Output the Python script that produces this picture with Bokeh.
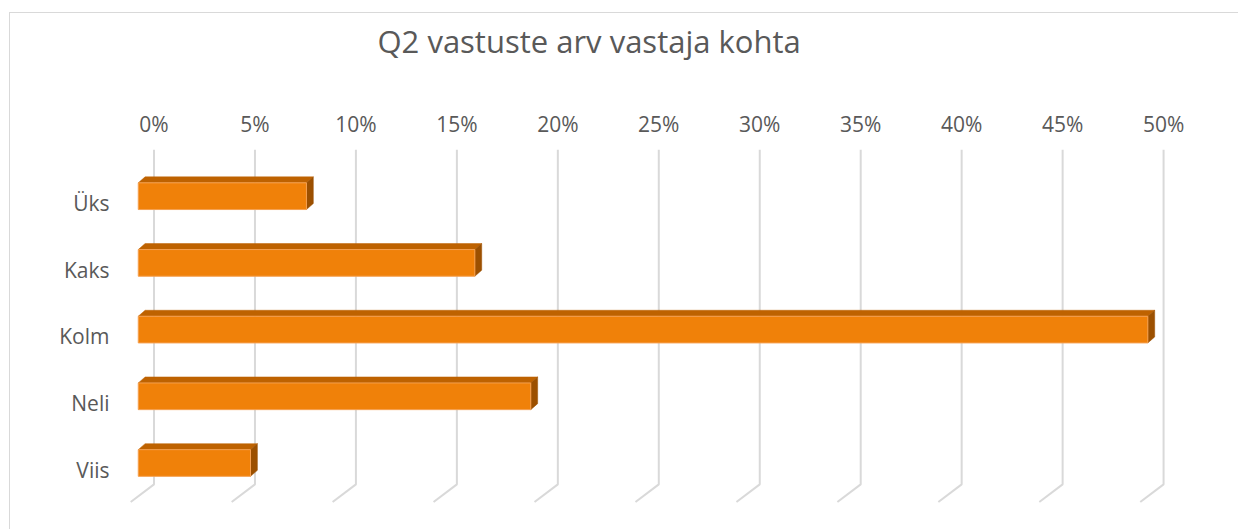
import numpy as np
from bokeh.plotting import figure
from bokeh.models import Range1d, FixedTicker
from bokeh.embed import file_html
from bokeh.resources import INLINE

# ---- data ----
title_text = "Q2 vastuste arv vastaja kohta"
categories = ["Üks", "Kaks", "Kolm", "Neli", "Viis"]
shares = [8.33, 16.67, 50.0, 19.44, 5.56]          # percent of respondents
tick_values = [0, 5, 10, 15, 20, 25, 30, 35, 40, 45, 50]
tick_labels = ["0%", "5%", "10%", "15%", "20%", "25%", "30%", "35%", "40%", "45%", "50%"]

# ---- style / 3D projection constants ----
FONT = "Open Sans"
TXT = "#595959"
GRID = "#D9D9D9"
FRONT = "#F08109"
TOP = "#BE6200"
SIDE = "#9C5000"
FRONT_SHIFT = -0.78   # x shift of bar front plane vs back wall (data units)
DX = 0.34             # depth offset, x (data units)
DY = 0.09             # depth offset, y (data units)
HALF = 0.2            # half bar height
LABEL_OFFSET = 0.1    # category label sits at the floor centre
WALL_BOTTOM = 4.32
FLOOR_Y = 4.585
FLOOR_DX = -1.154

p = figure(width=1229, height=517, output_backend="svg", toolbar_location=None,
           x_range=Range1d(-1.907, 53.76), y_range=Range1d(5.012, -0.7),
           x_axis_location="above", y_axis_location="left",
           min_border_left=105, min_border_top=136, min_border_right=0, min_border_bottom=0)
p.margin = (12, 0, 0, 9)
p.styles = {"border-top": "1px solid #D9D9D9", "border-left": "1px solid #D9D9D9"}
p.outline_line_color = None
p.xgrid.visible = False
p.ygrid.visible = False
p.background_fill_color = "white"
p.border_fill_color = "white"

# title (trailing blank line keeps it high above the axis labels)
p.title.text = title_text + "\n"
p.title.align = "left"
p.title.offset = 262
p.title.text_font = FONT
p.title.text_font_size = "31px"
p.title.text_font_style = "normal"
p.title.text_color = TXT
p.title.standoff = 5

# axes
xa = p.xaxis[0]
xa.ticker = FixedTicker(ticks=tick_values)
xa.major_label_overrides = {v: l for v, l in zip(tick_values, tick_labels)}
xa.axis_line_color = None
xa.major_tick_line_color = None
xa.minor_tick_line_color = None
xa.major_tick_out = 0
xa.major_label_standoff = 12
xa.major_label_text_font = FONT
xa.major_label_text_font_size = "21px"
xa.major_label_text_color = TXT

label_pos = [i + LABEL_OFFSET for i in range(len(categories))]
ya = p.yaxis[0]
ya.ticker = FixedTicker(ticks=label_pos)
ya.major_label_overrides = {v: c for v, c in zip(label_pos, categories)}
ya.axis_line_color = None
ya.major_tick_line_color = None
ya.minor_tick_line_color = None
ya.major_tick_out = 0
ya.major_label_standoff = 6
ya.major_label_text_font = FONT
ya.major_label_text_font_size = "21px"
ya.major_label_text_color = TXT

# gridlines: back wall + floor diagonal
ytop = p.y_range.end
gx = [[t, t, t + FLOOR_DX] for t in tick_values]
gy = [[ytop, WALL_BOTTOM, FLOOR_Y] for _ in tick_values]
p.multi_line(gx, gy, line_color=GRID, line_width=2)

# 3D bars
yc = np.arange(len(categories), dtype=float)
vals = np.array(shares)
xl = np.full_like(vals, FRONT_SHIFT)
xr = FRONT_SHIFT + vals
yt = yc - HALF
yb = yc + HALF

top_xs = [[a, a + DX, b + DX, b] for a, b in zip(xl, xr)]
top_ys = [[t, t - DY, t - DY, t] for t in yt]
side_xs = [[b, b + DX, b + DX, b] for b in xr]
side_ys = [[t, t - DY, u - DY, u] for t, u in zip(yt, yb)]

p.patches(top_xs, top_ys, fill_color=TOP, line_color=TOP, line_width=0.5)
p.patches(side_xs, side_ys, fill_color=SIDE, line_color=SIDE, line_width=0.5)
p.quad(left=xl, right=xr, top=yt, bottom=yb, fill_color=FRONT, line_color="#F5A050", line_width=1)

open("out.html", "w").write(file_html(p, INLINE))
